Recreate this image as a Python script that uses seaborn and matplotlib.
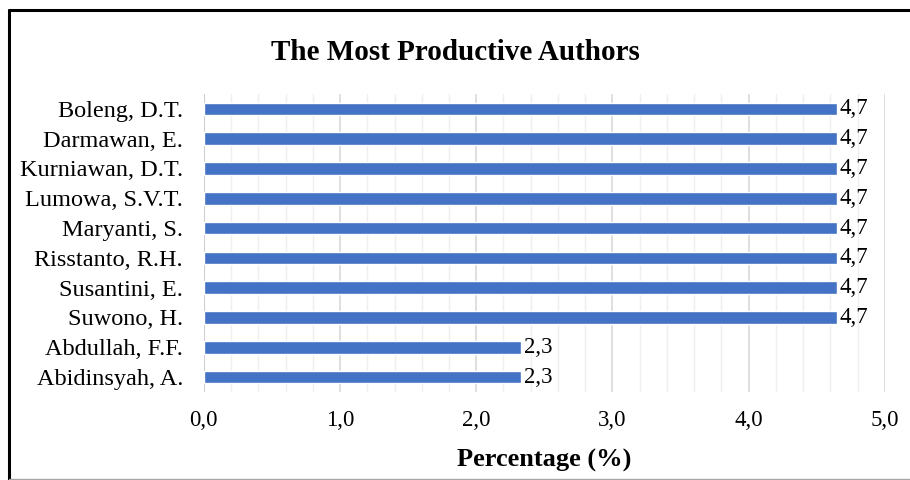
"""Horizontal bar chart: the most productive authors by percentage."""

import matplotlib.pyplot as plt
import pandas as pd
import seaborn as sns
from matplotlib.lines import Line2D
from matplotlib.ticker import FuncFormatter, MultipleLocator

authors = [
    "Boleng, D.T.",
    "Darmawan, E.",
    "Kurniawan, D.T.",
    "Lumowa, S.V.T.",
    "Maryanti, S.",
    "Risstanto, R.H.",
    "Susantini, E.",
    "Suwono, H.",
    "Abdullah, F.F.",
    "Abidinsyah, A.",
]
percentages = [4.65, 4.65, 4.65, 4.65, 4.65, 4.65, 4.65, 4.65, 2.33, 2.33]

BAR_COLOR = "#4472C4"

sns.set_theme(style="white")
plt.rcParams["font.family"] = ["Liberation Serif", "DejaVu Serif"]
plt.rcParams["text.color"] = "black"
plt.rcParams["axes.labelcolor"] = "black"


def _comma(value, _pos=None):
    return f"{value:.1f}".replace(".", ",")


df = pd.DataFrame({"author": authors, "pct": percentages})

fig = plt.figure(figsize=(9.1, 4.8), dpi=100)
ax = fig.add_axes([0.224, 0.1833, 0.7484, 0.621])

sns.barplot(
    data=df,
    x="pct",
    y="author",
    orient="h",
    color=BAR_COLOR,
    saturation=1,
    width=0.42,
    ax=ax,
    zorder=3,
)

ax.set_xlim(0, 5)
ax.set_ylim(9.5, -0.5)
ax.xaxis.set_major_locator(MultipleLocator(1))
ax.xaxis.set_minor_locator(MultipleLocator(0.2))
ax.xaxis.set_major_formatter(FuncFormatter(_comma))
ax.grid(True, axis="x", which="major", color="#d9d9d9", linewidth=1.2, zorder=0)
ax.grid(True, axis="x", which="minor", color="#efefef", linewidth=1.0, zorder=0)
ax.grid(False, axis="y")
ax.axvline(0, color="#cfcfcf", linewidth=1.5, zorder=2)

for spine in ax.spines.values():
    spine.set_visible(False)

ax.tick_params(axis="both", which="both", length=0, labelsize=16.5, colors="black")
ax.tick_params(axis="y", labelsize=17.5, pad=15)
ax.tick_params(axis="x", pad=13)

for container in ax.containers:
    ax.bar_label(
        container,
        labels=[_comma(v) for v in percentages],
        padding=2,
        fontsize=16.5,
    )

ax.set_ylabel("")
ax.set_xlabel("Percentage (%)", fontsize=19, fontweight="bold", labelpad=13)
fig.text(0.5, 0.89, "The Most Productive Authors", ha="center", va="center",
         fontsize=21, fontweight="bold")

# Outer chart frame (left/top black, bottom grey).
fig.add_artist(Line2D([0.0099, 0.0099], [0.0, 0.979], color="black", linewidth=2.2,
                      transform=fig.transFigure))
fig.add_artist(Line2D([0.0099, 1.0], [0.979, 0.979], color="black", linewidth=2.2,
                      transform=fig.transFigure))
fig.add_artist(Line2D([0.0099, 1.0], [0.003, 0.003], color="#a6a6a6", linewidth=1.0,
                      transform=fig.transFigure))

fig.savefig("out.png", dpi=100)
plt.close(fig)
